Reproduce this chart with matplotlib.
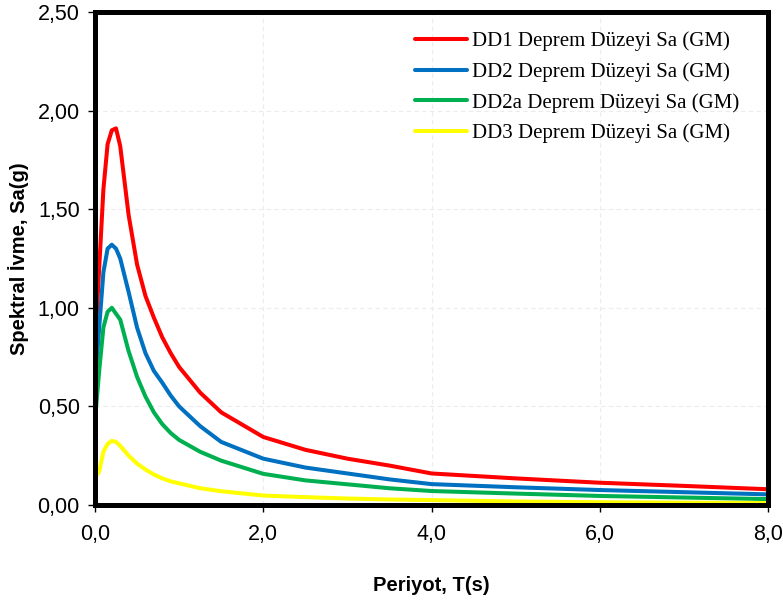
import matplotlib
matplotlib.use("Agg")
import matplotlib.pyplot as plt
from matplotlib.ticker import FuncFormatter

T = [0, 0.05, 0.1, 0.15, 0.2, 0.25, 0.3, 0.4, 0.5, 0.6, 0.7, 0.8, 0.9, 1.0,
     1.25, 1.5, 2.0, 2.5, 3.0, 3.5, 4.0, 5.0, 6.0, 7.0, 8.0]
dd1 = [0.80, 1.20, 1.60, 1.83, 1.90, 1.91, 1.82, 1.47, 1.22, 1.06, 0.95, 0.85, 0.77, 0.70,
       0.57, 0.47, 0.345, 0.28, 0.235, 0.20, 0.16, 0.135, 0.113, 0.097, 0.08]
dd2 = [0.60, 0.90, 1.18, 1.30, 1.32, 1.30, 1.25, 1.08, 0.90, 0.77, 0.68, 0.62, 0.555, 0.50,
       0.40, 0.32, 0.235, 0.19, 0.16, 0.13, 0.106, 0.09, 0.076, 0.065, 0.054]
dd2a = [0.43, 0.68, 0.90, 0.98, 1.00, 0.97, 0.94, 0.78, 0.65, 0.55, 0.47, 0.41, 0.365, 0.33,
        0.27, 0.225, 0.158, 0.125, 0.105, 0.085, 0.071, 0.058, 0.046, 0.038, 0.03]
dd3 = [0.14, 0.17, 0.27, 0.31, 0.325, 0.32, 0.30, 0.25, 0.21, 0.18, 0.155, 0.135, 0.12, 0.11,
       0.085, 0.07, 0.048, 0.04, 0.033, 0.028, 0.025, 0.018, 0.014, 0.012, 0.01]
labels = ["DD1 Deprem Düzeyi Sa (GM)", "DD2 Deprem Düzeyi Sa (GM)",
          "DD2a Deprem Düzeyi Sa (GM)", "DD3 Deprem Düzeyi Sa (GM)"]
colors = ["#FF0000", "#0070C0", "#00B050", "#FFFF00"]
xticks = [0, 2, 4, 6, 8]
yticks = [0, 0.5, 1.0, 1.5, 2.0, 2.5]

fig = plt.figure(figsize=(7.83, 6.0), dpi=100)
ax = fig.add_axes([0.1213, 0.1583, 0.8597, 0.8217])

for y, lab, c in zip([dd1, dd2, dd2a, dd3], labels, colors):
    ax.plot(T, y, color=c, lw=2.9, label=lab, solid_joinstyle="round", solid_capstyle="round")

ax.set_xlim(0, 8)
ax.set_ylim(0, 2.5)
ax.set_xticks(xticks)
ax.set_yticks(yticks)
ax.xaxis.set_major_formatter(FuncFormatter(lambda v, p: f"{v:.1f}".replace(".", ",")))
ax.yaxis.set_major_formatter(FuncFormatter(lambda v, p: f"{v:.2f}".replace(".", ",")))
ax.grid(True, color="#ececec", linestyle=(0, (4, 3)), linewidth=0.8)
ax.set_axisbelow(True)
for s in ax.spines.values():
    s.set_linewidth(3.6)
    s.set_color("black")
ax.tick_params(direction="out", length=5, width=1, labelsize=15.5, pad=6)
ax.tick_params(axis="x", pad=9)
for t in ax.get_xticklabels() + ax.get_yticklabels():
    t.set_fontfamily("Liberation Sans")
ax.set_xlabel("Periyot, T(s)", fontsize=14.5, fontweight="bold", family="Liberation Sans", labelpad=22)
ax.set_ylabel("Spektral İvme, Sa(g)", fontsize=14.5, fontweight="bold", family="Liberation Sans", labelpad=6)
leg = ax.legend(loc="upper right", frameon=False, prop={"family": "Liberation Serif", "size": 15},
                handlelength=2.5, handletextpad=0.25, labelspacing=0.52,
                bbox_to_anchor=(0.985, 0.998))
fig.savefig("out.png", dpi=100)
